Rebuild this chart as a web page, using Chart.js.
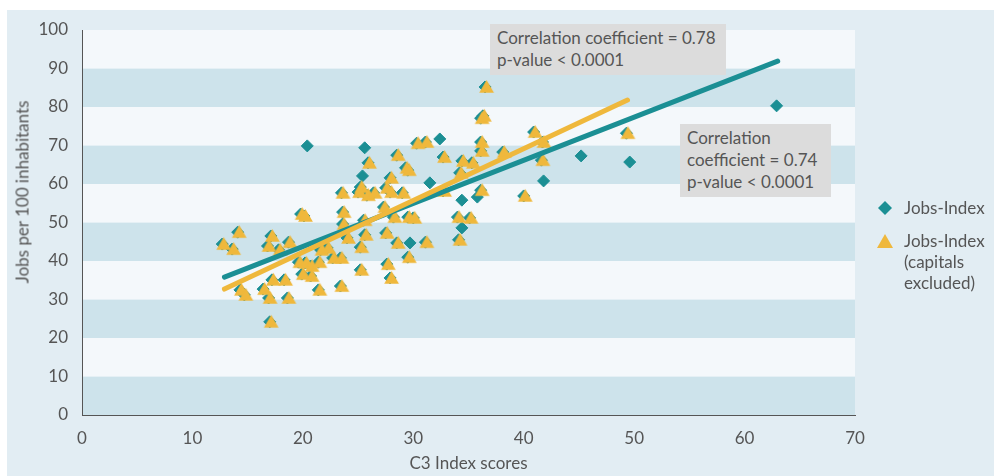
<!DOCTYPE html>
<html>
<head>
<meta charset="utf-8">
<script src="https://cdn.jsdelivr.net/npm/chart.js@4"></script>
<style>
  html, body { margin: 0; padding: 0; background: #ffffff; }
  body { width: 994px; height: 476px; position: relative; overflow: hidden; font-family: Lato, sans-serif; color: #555; }
  #panel { position: absolute; left: 7px; top: 10px; right: 0; bottom: 0; background: #e2edf3; }
  #wrap { position: absolute; left: 0; top: 0; width: 994px; height: 476px; }
  .note { position: absolute; background: #dcdcdc; color: #555; font-size: 17px; line-height: 22px; padding: 3px 7px; box-sizing: border-box; white-space: nowrap; }
  #ytitle { position: absolute; left: 22px; top: 192px; transform: translate(-50%, -50%) rotate(-90deg); white-space: nowrap; font-size: 17px; color: #555; }
  .legend { position: absolute; left: 876px; font-size: 17px; line-height: 21px; color: #555; }
  .legend svg { position: absolute; left: 0; top: 2px; }
  .legend span { display: block; margin-left: 28px; }
</style>
</head>
<body>
<div id="panel"></div>
<div id="wrap"><canvas id="chart"></canvas></div>
<div id="ytitle">Jobs per 100 inhabitants</div>
<div class="note" style="left:490px;top:24px;width:236px;height:51px;">Correlation coefficient = 0.78<br>p-value &lt; 0.0001</div>
<div class="note" style="left:680px;top:124px;width:151px;height:73px;">Correlation<br>coefficient = 0.74<br>p-value &lt; 0.0001</div>
<div class="legend" style="top:197px;">
  <svg width="18" height="18"><polygon points="9,2 16,9 9,16 2,9" fill="#1b8f94"/></svg>
  <span>Jobs-Index</span>
</div>
<div class="legend" style="top:230px;">
  <svg width="18" height="18"><polygon points="9,2 17,16 1,16" fill="#efb83c"/></svg>
  <span>Jobs-Index<br>(capitals<br>excluded)</span>
</div>
<script>
// regions without capitals (x = C3 Index score, y = jobs per 100 inhabitants)
const regionX = [12.7, 13.6, 14.1, 14.3, 14.7, 16.4, 16.9, 17.1, 16.8, 18.7,
                 17.8, 17.2, 18.3, 18.6, 17.0, 19.8, 20.1, 19.6, 20.2, 20.7,
                 21.4, 19.9, 20.7, 21.4, 22.2, 21.6, 22.7, 23.4, 23.4, 23.5,
                 23.6, 23.6, 24.0, 25.2, 25.0, 25.8, 26.4, 25.9, 25.5, 25.6,
                 25.2, 25.2, 27.3, 27.5, 27.9, 27.9, 28.5, 29.0, 27.5, 28.5,
                 27.6, 27.9, 28.2, 29.5, 30.0, 29.3, 29.5, 30.3, 31.1, 31.1,
                 29.5, 32.7, 32.7, 34.0, 35.1, 34.1, 34.4, 35.3, 34.2, 36.1,
                 36.1, 36.1, 36.1, 36.3, 36.5, 38.1, 40.0, 40.9, 41.7, 41.6,
                 49.3];
const regionY = [44.4, 43.1, 47.5, 32.5, 31.2, 32.7, 30.4, 46.5, 43.9, 44.9,
                 42.9, 35.1, 35.1, 30.4, 24.2, 52.2, 51.7, 39.7, 39.5, 38.7,
                 39.7, 36.6, 36.1, 32.5, 43.4, 42.9, 40.8, 40.8, 33.5, 57.7,
                 52.7, 49.6, 46.0, 59.2, 57.9, 57.1, 57.7, 65.5, 50.6, 46.8,
                 43.6, 37.7, 54.0, 59.0, 57.9, 61.6, 67.5, 57.7, 47.3, 44.7,
                 39.2, 35.6, 51.4, 51.4, 51.2, 64.2, 63.6, 70.6, 70.9, 44.9,
                 41.0, 67.0, 58.2, 51.4, 51.2, 45.5, 66.0, 65.5, 62.9, 58.4,
                 70.9, 68.6, 77.1, 77.7, 85.2, 68.3, 56.9, 73.5, 70.9, 66.2,
                 73.2];
// capital regions (only in the full Jobs-Index series)
const capitalX = [20.4, 25.6, 25.4, 32.4, 31.5, 34.4, 35.8, 34.4, 29.7, 41.8, 45.2, 49.6, 62.9];
const capitalY = [69.9, 69.4, 62.1, 71.7, 60.3, 55.8, 56.6, 48.6, 44.7, 60.8, 67.3, 65.7, 80.3];
// fitted lines (end points)
const fitAllX = [12.9, 63.0];
const fitAllY = [35.8, 91.9];
const fitExclX = [12.9, 49.4];
const fitExclY = [32.7, 81.8];
const xTicks = [0, 10, 20, 30, 40, 50, 60, 70];
const yTicks = [0, 10, 20, 30, 40, 50, 60, 70, 80, 90, 100];

const TEAL = '#1b8f94';
const YELLOW = '#efb83c';
const FONT = 'Lato, sans-serif';

function toPoints(xs, ys) {
    return xs.map((x, i) => ({ x: x, y: ys[i] }));
}

// triangle marker drawn a little right/down so the diamond peeks out behind it
function makeTriangle() {
    const c = document.createElement('canvas');
    c.width = 24;
    c.height = 24;
    const g = c.getContext('2d');
    const cx = 13.5, cy = 13.5, r = 8.5;
    g.fillStyle = YELLOW;
    g.beginPath();
    g.moveTo(cx, cy - r);
    g.lineTo(cx + r * 0.866, cy + r * 0.5);
    g.lineTo(cx - r * 0.866, cy + r * 0.5);
    g.closePath();
    g.fill();
    return c;
}

const bandPlugin = {
    id: 'bands',
    beforeDraw(chart) {
        const { ctx, chartArea, scales } = chart;
        ctx.save();
        for (let i = 0; i < yTicks.length - 1; i++) {
            const top = scales.y.getPixelForValue(yTicks[i + 1]);
            const bottom = scales.y.getPixelForValue(yTicks[i]);
            ctx.fillStyle = i % 2 === 0 ? '#cde3eb' : '#f4f8fb';
            ctx.fillRect(chartArea.left, top, chartArea.right - chartArea.left, bottom - top);
        }
        ctx.restore();
    }
};

const allPoints = toPoints(regionX.concat(capitalX), regionY.concat(capitalY));

new Chart(document.getElementById('chart'), {
    type: 'scatter',
    data: {
        datasets: [
            {
                label: 'Fit excl. capitals',
                type: 'line',
                data: toPoints(fitExclX, fitExclY),
                borderColor: YELLOW,
                borderWidth: 5,
                borderCapStyle: 'round',
                pointRadius: 0,
                fill: false,
                order: 0
            },
            {
                label: 'Fit all',
                type: 'line',
                data: toPoints(fitAllX, fitAllY),
                borderColor: TEAL,
                borderWidth: 5,
                borderCapStyle: 'round',
                pointRadius: 0,
                fill: false,
                order: 1
            },
            {
                label: 'Jobs-Index (capitals excluded)',
                data: toPoints(regionX, regionY),
                pointStyle: makeTriangle(),
                pointRadius: 9,
                order: 2
            },
            {
                label: 'Jobs-Index',
                data: allPoints,
                pointStyle: 'rectRot',
                pointRadius: 6,
                backgroundColor: TEAL,
                borderColor: TEAL,
                borderWidth: 1,
                order: 3
            }
        ]
    },
    plugins: [bandPlugin],
    options: {
        responsive: true,
        maintainAspectRatio: false,
        animation: false,
        layout: { padding: { left: 0, top: 30, right: 139, bottom: 0 } },
        plugins: {
            legend: { display: false },
            tooltip: { enabled: false }
        },
        scales: {
            x: {
                type: 'linear',
                min: 0,
                max: 70,
                afterFit: s => { s.height = 61; },
                afterBuildTicks: s => { s.ticks = xTicks.map(v => ({ value: v })); },
                grid: { display: false, drawTicks: false },
                border: { display: true, color: '#555', width: 1 },
                ticks: { color: '#555', padding: 13, font: { family: FONT, size: 17 } },
                title: {
                    display: true,
                    text: 'C3 Index scores',
                    color: '#555',
                    font: { family: FONT, size: 17 },
                    padding: { top: 0, bottom: 2 }
                }
            },
            y: {
                type: 'linear',
                min: 0,
                max: 100,
                afterFit: s => { s.width = 82; },
                afterBuildTicks: s => { s.ticks = yTicks.map(v => ({ value: v })); },
                grid: { display: false, drawTicks: false },
                border: { display: true, color: '#555', width: 1 },
                ticks: { color: '#555', padding: 14, font: { family: FONT, size: 17 } }
            }
        }
    }
});
</script>
</body>
</html>
